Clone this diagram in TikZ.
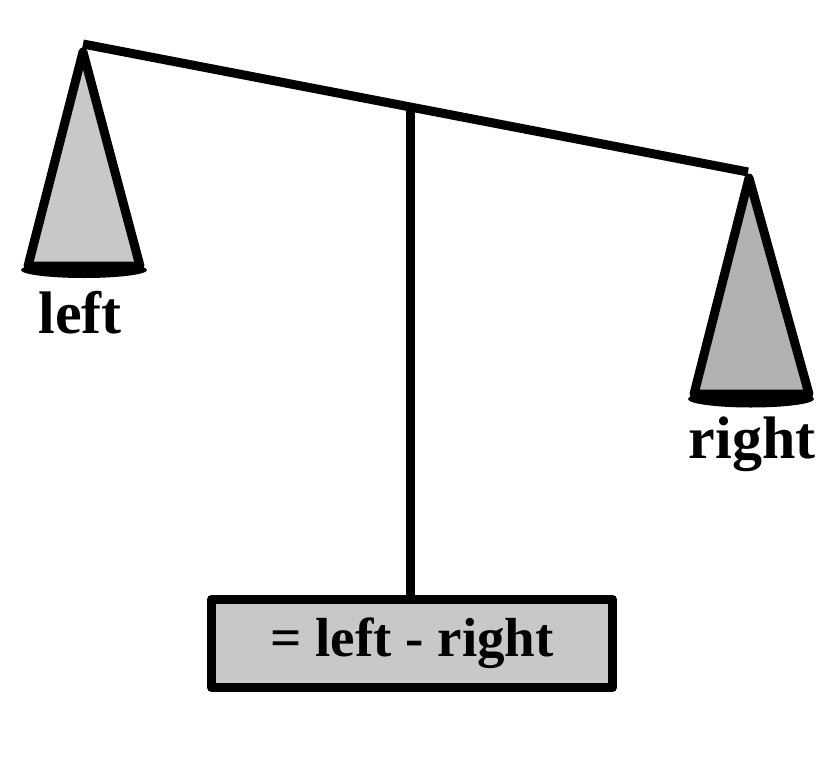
\documentclass[tikz,border=0pt]{standalone}
\usepackage{fontspec}
\setmainfont{Liberation Serif}
\usetikzlibrary{calc}
\definecolor{panlight}{RGB}{200,200,200}
\definecolor{pandark}{RGB}{178,178,178}

\begin{document}
\begin{tikzpicture}[x=1pt,y=-1pt,line width=9pt,line join=round,
		lbl/.style={anchor=base,font=\fontsize{60}{72}\selectfont\bfseries},
		readout/.style={draw,fill=panlight,minimum width=401pt,minimum height=88pt,inner sep=0pt,font=\fontsize{55}{66}\selectfont\bfseries}]
		\fill[white](0,0)rectangle(840,757);
		\useasboundingbox(0,0)rectangle(840,757);
		\coordinate(lhook)at(83,44);
		\coordinate(rhook)at(748,172);
		\coordinate(pivot)at($(lhook)!0.492!(rhook)$);
		\draw(lhook)--(rhook);
		% pans
		\filldraw[fill=panlight](83,52)--(28,266)--(140,266)--cycle;
		\fill(84,270)ellipse(63 and 8);
		\filldraw[fill=pandark](749,178)--(694,394)--(809,394)--cycle;
		\fill(751,399)ellipse(63 and 8.5);
		\node[lbl](leftlbl)at(80,333){left};
		\node[lbl](rightlbl)at(752,458){right};
		\node[readout](box)at(412,643.5){= left - right};
		\draw(pivot)--(pivot|-box.north);
		\end{tikzpicture}
\end{document}
